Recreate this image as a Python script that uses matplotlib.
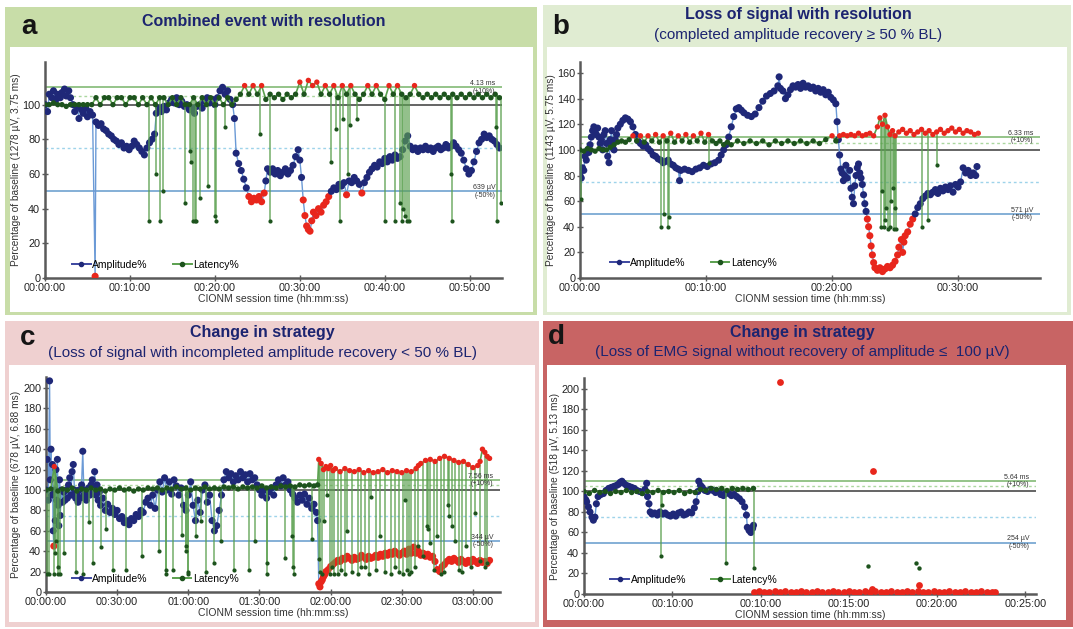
import numpy as np
import matplotlib.pyplot as plt
from matplotlib.patches import Rectangle
from matplotlib.lines import Line2D

W, H = 1073, 629
plt.rcParams['font.family'] = ['Liberation Sans', 'DejaVu Sans']

NAVY = '#1f2878'
RED = '#e8261c'
DKGREEN = '#1d531d'
AMP_LINE = '#6b9ad6'
LAT_LINE = '#5aa04e'
TITLE_COLOR = '#1c2470'

# ---- panel a: combined event with resolution (time in minutes, value in % of baseline)
amp_a = [(0.0, 100), (0.3, 96), (0.5, 106), (0.8, 104), (1.0, 108), (1.3, 103), (1.5, 106), (1.8, 104),
         (2.0, 107), (2.3, 109), (2.5, 105), (2.8, 108), (3.0, 104), (3.3, 100), (3.5, 96), (3.8, 99),
         (4.0, 92), (4.3, 97), (4.5, 95), (4.8, 98), (5.0, 93), (5.3, 96), (5.6, 94), (5.9, 1), (6.0, 90),
         (6.3, 88), (6.6, 89), (6.9, 86), (7.2, 85), (7.5, 83), (7.8, 82), (8.1, 80), (8.4, 79), (8.7, 77),
         (9.0, 78), (9.3, 75), (9.6, 76), (9.9, 74), (10.2, 76), (10.5, 79), (10.8, 77), (11.1, 75),
         (11.4, 73), (11.7, 71), (12.0, 75), (12.3, 78), (12.6, 80), (12.9, 83), (13.1, 95), (13.4, 98),
         (13.7, 96), (14.0, 99), (14.3, 97), (14.6, 101), (14.9, 103), (15.2, 101), (15.5, 104), (15.8, 100),
         (16.1, 102), (16.4, 99), (16.7, 100), (17.0, 97), (17.3, 98), (17.6, 95), (17.9, 99), (18.2, 100),
         (18.5, 98), (18.8, 102), (19.1, 104), (19.4, 101), (19.7, 103), (20.0, 100), (20.3, 104), (20.6, 108),
         (20.9, 110), (21.2, 106), (21.5, 108), (21.8, 103), (22.1, 100), (22.3, 92), (22.5, 72), (22.8, 66),
         (23.1, 62), (23.4, 57), (23.7, 52), (24.0, 47), (24.3, 44), (24.6, 46), (24.9, 45), (25.2, 47),
         (25.5, 44), (25.8, 49), (26.0, 56), (26.2, 63), (26.5, 61), (26.8, 63), (27.1, 60), (27.4, 62),
         (27.7, 59), (28.0, 61), (28.3, 63), (28.6, 60), (28.9, 62), (29.2, 65), (29.5, 70), (29.8, 74),
         (30.0, 68), (30.2, 58), (30.4, 45), (30.6, 36), (30.8, 30), (31.0, 28), (31.2, 27), (31.4, 33),
         (31.6, 38), (31.9, 36), (32.2, 40), (32.5, 38), (32.8, 42), (33.1, 44), (33.4, 47), (33.7, 50),
         (34.0, 52), (34.3, 51), (34.6, 54), (34.9, 53), (35.2, 55), (35.5, 48), (35.8, 56), (36.1, 55),
         (36.4, 58), (36.7, 56), (37.0, 54), (37.3, 49), (37.6, 55), (37.9, 58), (38.2, 61), (38.5, 63),
         (38.8, 65), (39.1, 64), (39.4, 67), (39.7, 66), (40.0, 69), (40.3, 67), (40.6, 70), (40.9, 68),
         (41.2, 71), (41.5, 69), (41.8, 70), (42.1, 74), (42.4, 79), (42.7, 82), (43.0, 76), (43.3, 74),
         (43.6, 75), (43.9, 73), (44.2, 75), (44.5, 74), (44.8, 76), (45.1, 74), (45.4, 75), (45.7, 73),
         (46.0, 75), (46.3, 76), (46.6, 74), (46.9, 75), (47.2, 77), (47.5, 75), (47.8, 76), (48.1, 78),
         (48.4, 76), (48.7, 74), (49.0, 72), (49.3, 68), (49.6, 63), (49.9, 60), (50.2, 62), (50.5, 67),
         (50.8, 73), (51.1, 78), (51.4, 80), (51.7, 83), (52.0, 81), (52.3, 82), (52.6, 80), (52.9, 79),
         (53.2, 77), (53.5, 75)]
lat_a = [(0.0, 100), (0.5, 100), (1.0, 101), (1.5, 100), (2.0, 100), (2.5, 99), (3.0, 100), (3.5, 100),
         (4.0, 100), (4.5, 100), (5.0, 100), (5.5, 100), (6.0, 104), (6.5, 100), (7.0, 104), (7.5, 104),
         (8.0, 100), (8.5, 104), (9.0, 104), (9.5, 100), (10.0, 104), (10.5, 104), (11.0, 100), (11.5, 104),
         (12.0, 100), (12.5, 104), (13.0, 100), (13.5, 104), (14.0, 104), (14.5, 100), (15.0, 104),
         (15.5, 100), (16.0, 104), (16.5, 100), (17.0, 100), (17.5, 104), (18.0, 100), (18.5, 104),
         (19.0, 100), (19.5, 104), (20.0, 100), (20.5, 104), (21.0, 100), (21.5, 104), (22.0, 100),
         (22.5, 103), (23.0, 106), (23.5, 111), (24.0, 106), (24.5, 111), (25.0, 106), (25.5, 111),
         (26.0, 103), (26.5, 106), (27.0, 104), (27.5, 106), (28.0, 103), (28.5, 106), (29.0, 104),
         (29.5, 106), (30.0, 113), (30.5, 106), (31.0, 114), (31.5, 111), (32.0, 113), (32.5, 106),
         (33.0, 111), (33.5, 106), (34.0, 111), (34.5, 104), (35.0, 111), (35.5, 106), (36.0, 111),
         (36.5, 106), (37.0, 103), (37.5, 106), (38.0, 111), (38.5, 106), (39.0, 111), (39.5, 106),
         (40.0, 103), (40.5, 111), (41.0, 106), (41.5, 111), (42.0, 106), (42.5, 104), (43.0, 106),
         (43.5, 111), (44.0, 106), (44.5, 104), (45.0, 106), (45.5, 104), (46.0, 106), (46.5, 104),
         (47.0, 106), (47.5, 104), (48.0, 106), (48.5, 104), (49.0, 106), (49.5, 104), (50.0, 106),
         (50.5, 104), (51.0, 106), (51.5, 104), (52.0, 106), (52.5, 104), (53.0, 106), (53.5, 104)]
drops_a = [(12.2, 33), (13.1, 60), (13.5, 33), (13.9, 50), (16.5, 43), (17.1, 73), (17.2, 67), (17.4, 33),
           (17.6, 33), (17.8, 33), (18.2, 46), (19.2, 53), (20.0, 36), (20.1, 33), (21.2, 87), (25.3, 83),
           (26.5, 33), (33.7, 67), (34.3, 86), (34.7, 33), (35.1, 92), (35.7, 60), (35.9, 88), (36.7, 92),
           (40.0, 33), (41.2, 33), (41.8, 43), (42.0, 33), (42.2, 40), (42.4, 36), (42.6, 33), (42.9, 33),
           (47.8, 60), (47.9, 33), (53.1, 87), (53.2, 33), (53.7, 43)]

# ---- panel b: loss of signal with resolution
amp_b = [(0.0, 80), (0.1, 78), (0.2, 86), (0.3, 84), (0.4, 95), (0.5, 92), (0.6, 100), (0.7, 98), (0.8, 104),
         (0.9, 110), (1.0, 115), (1.1, 118), (1.2, 116), (1.3, 112), (1.4, 117), (1.5, 110), (1.6, 105),
         (1.7, 108), (1.8, 100), (1.9, 112), (2.0, 115), (2.1, 105), (2.2, 95), (2.3, 90), (2.4, 108),
         (2.5, 115), (2.6, 104), (2.7, 100), (2.8, 108), (2.9, 112), (3.0, 117), (3.2, 120), (3.4, 123),
         (3.6, 125), (3.8, 124), (4.0, 122), (4.2, 118), (4.4, 112), (4.6, 107), (4.8, 105), (5.0, 103),
         (5.2, 104), (5.4, 101), (5.6, 99), (5.8, 96), (6.0, 95), (6.2, 93), (6.4, 92), (6.6, 90), (6.8, 91),
         (7.0, 92), (7.2, 89), (7.4, 88), (7.6, 86), (7.8, 85), (7.9, 76), (8.0, 84), (8.3, 85), (8.6, 84),
         (8.9, 83), (9.2, 85), (9.5, 86), (9.8, 88), (10.1, 87), (10.4, 89), (10.7, 90), (11.0, 92),
         (11.2, 96), (11.4, 100), (11.6, 104), (11.8, 110), (12.0, 118), (12.2, 126), (12.4, 132),
         (12.6, 133), (12.8, 131), (13.0, 129), (13.3, 127), (13.6, 126), (13.9, 128), (14.2, 133),
         (14.5, 138), (14.8, 142), (15.1, 144), (15.4, 146), (15.7, 150), (15.8, 157), (15.9, 148),
         (16.1, 146), (16.3, 140), (16.5, 143), (16.7, 147), (16.9, 150), (17.1, 149), (17.3, 151),
         (17.5, 148), (17.7, 152), (17.9, 149), (18.1, 150), (18.3, 148), (18.5, 149), (18.7, 146),
         (18.9, 148), (19.1, 145), (19.3, 147), (19.5, 143), (19.7, 145), (19.9, 141), (20.1, 139),
         (20.3, 136), (20.4, 122), (20.5, 108), (20.6, 96), (20.7, 85), (20.8, 82), (20.9, 76), (21.0, 80),
         (21.1, 88), (21.2, 78), (21.4, 84), (21.5, 70), (21.6, 63), (21.7, 58), (21.8, 72), (21.9, 80),
         (22.0, 86), (22.1, 89), (22.2, 82), (22.3, 78), (22.4, 73), (22.5, 65), (22.6, 58), (22.7, 52),
         (22.8, 46), (22.9, 40), (23.0, 33), (23.1, 25), (23.2, 18), (23.3, 12), (23.4, 8), (23.6, 6),
         (23.8, 8), (24.0, 5), (24.2, 7), (24.4, 9), (24.6, 8), (24.8, 10), (25.0, 13), (25.2, 18),
         (25.3, 24), (25.5, 30), (25.6, 20), (25.7, 28), (25.8, 33), (26.0, 36), (26.2, 42), (26.4, 46),
         (26.6, 50), (26.8, 55), (27.0, 58), (27.2, 62), (27.4, 64), (27.6, 66), (27.8, 65), (28.0, 67),
         (28.2, 69), (28.4, 66), (28.6, 70), (28.8, 68), (29.0, 71), (29.2, 69), (29.4, 72), (29.6, 67),
         (29.8, 73), (30.0, 71), (30.2, 75), (30.4, 86), (30.6, 82), (30.8, 84), (31.0, 80), (31.2, 82),
         (31.4, 80), (31.5, 87)]
lat_b = [(0.0, 100), (0.3, 99), (0.6, 101), (0.9, 100), (1.2, 99), (1.5, 101), (1.8, 100), (2.1, 100),
         (2.4, 102), (2.7, 104), (3.0, 106), (3.3, 107), (3.6, 106), (3.9, 108), (4.2, 111), (4.5, 107),
         (4.8, 111), (5.1, 106), (5.4, 111), (5.7, 107), (6.0, 112), (6.3, 106), (6.6, 111), (6.9, 107),
         (7.2, 113), (7.5, 106), (7.8, 111), (8.1, 107), (8.4, 112), (8.7, 106), (9.0, 111), (9.3, 107),
         (9.6, 113), (9.9, 106), (10.2, 112), (10.5, 107), (10.8, 105), (11.1, 107), (11.4, 104),
         (11.7, 106), (12.0, 104), (12.5, 107), (13.0, 105), (13.5, 107), (14.0, 105), (14.5, 107),
         (15.0, 104), (15.5, 107), (16.0, 105), (16.5, 107), (17.0, 105), (17.5, 107), (18.0, 105),
         (18.5, 107), (19.0, 105), (19.5, 108), (20.0, 111), (20.3, 107), (20.6, 111), (20.9, 112),
         (21.2, 111), (21.5, 112), (21.8, 111), (22.1, 113), (22.4, 111), (22.7, 112), (23.0, 113),
         (23.3, 111), (23.6, 118), (23.8, 125), (24.0, 120), (24.2, 127), (24.4, 118), (24.6, 112),
         (24.8, 115), (25.0, 111), (25.3, 114), (25.6, 116), (25.9, 113), (26.2, 115), (26.5, 112),
         (26.8, 114), (27.1, 116), (27.4, 113), (27.7, 115), (28.0, 112), (28.3, 114), (28.6, 116),
         (28.9, 113), (29.2, 115), (29.5, 117), (29.8, 114), (30.1, 116), (30.4, 113), (30.7, 115),
         (31.0, 114), (31.3, 112), (31.6, 113)]
drops_b = [(0.05, 62), (6.4, 40), (6.7, 50), (7.0, 40), (7.1, 48), (10.2, 90), (23.9, 40), (24.0, 68),
           (24.1, 40), (24.2, 45), (24.3, 55), (24.4, 38), (24.6, 40), (24.7, 60), (24.8, 70), (24.9, 38),
           (25.0, 55), (25.1, 38), (27.1, 40), (27.6, 45), (28.3, 88)]

# ---- panel c: change in strategy, incomplete recovery
amp_c = [(0.0, 100), (0.5, 130), (1.0, 90), (1.5, 207), (1.8, 110), (2.1, 140), (2.4, 95), (2.7, 125),
         (3.0, 60), (3.3, 45), (3.6, 100), (3.9, 70), (4.2, 120), (4.5, 90), (4.8, 130), (5.1, 85),
         (5.4, 65), (5.7, 110), (6.0, 75), (6.5, 100), (7.0, 88), (7.5, 98), (8.0, 90), (8.5, 100),
         (9.0, 92), (9.5, 105), (10.0, 112), (10.5, 95), (11.0, 118), (11.5, 125), (12.0, 100), (12.5, 92),
         (13.0, 96), (13.5, 88), (14.0, 100), (14.5, 92), (15.0, 105), (15.5, 138), (16.0, 95), (16.5, 100),
         (17.0, 90), (17.5, 98), (18.0, 102), (18.5, 95), (19.0, 105), (19.5, 110), (20.0, 100),
         (20.5, 118), (21.0, 95), (21.5, 105), (22.0, 90), (22.5, 98), (23.0, 85), (24.0, 92), (25.0, 80),
         (26.0, 86), (27.0, 78), (28.0, 82), (29.0, 76), (30.0, 80), (31.0, 72), (32.0, 74), (33.0, 68),
         (34.0, 70), (35.0, 66), (36.0, 72), (37.0, 70), (38.0, 76), (39.0, 74), (40.0, 80), (41.0, 78),
         (42.0, 88), (43.0, 92), (44.0, 85), (45.0, 95), (46.0, 82), (47.0, 100), (48.0, 108), (49.0, 98),
         (50.0, 112), (51.0, 100), (52.0, 108), (53.0, 96), (54.0, 110), (55.0, 104), (56.0, 95),
         (57.0, 102), (58.0, 85), (59.0, 80), (60.0, 95), (61.0, 108), (62.0, 85), (63.0, 70), (64.0, 90),
         (65.0, 78), (66.0, 100), (67.0, 105), (68.0, 88), (69.0, 95), (70.0, 70), (71.0, 60), (72.0, 65),
         (73.0, 80), (74.0, 95), (75.0, 110), (76.0, 118), (77.0, 112), (78.0, 116), (79.0, 108),
         (80.0, 114), (81.0, 110), (82.0, 118), (83.0, 112), (84.0, 115), (85.0, 108), (86.0, 116),
         (87.0, 110), (88.0, 112), (89.0, 105), (90.0, 100), (91.0, 95), (92.0, 100), (93.0, 92),
         (94.0, 98), (95.0, 102), (96.0, 95), (97.0, 105), (98.0, 110), (99.0, 104), (100.0, 112),
         (101.0, 105), (102.0, 108), (103.0, 100), (104.0, 96), (105.0, 92), (106.0, 88), (107.0, 95),
         (108.0, 90), (109.0, 96), (110.0, 86), (111.0, 92), (112.0, 82), (113.0, 86), (114.0, 78),
         (114.5, 70), (115.0, 8), (115.5, 5), (116.0, 10), (116.5, 12), (117.0, 15), (117.5, 17),
         (118.0, 20), (119.0, 22), (120.0, 25), (121.0, 27), (122.0, 29), (123.0, 31), (124.0, 30),
         (125.0, 33), (126.0, 32), (127.0, 35), (128.0, 33), (129.0, 31), (130.0, 34), (131.0, 32),
         (132.0, 33), (133.0, 36), (134.0, 34), (135.0, 32), (136.0, 35), (137.0, 33), (138.0, 34),
         (139.0, 36), (140.0, 34), (141.0, 37), (142.0, 35), (143.0, 38), (144.0, 36), (145.0, 39),
         (146.0, 37), (147.0, 40), (148.0, 38), (149.0, 36), (150.0, 38), (151.0, 40), (152.0, 37),
         (153.0, 42), (154.0, 38), (155.0, 44), (156.0, 38), (157.0, 40), (158.0, 36), (159.0, 38),
         (160.0, 35), (161.0, 37), (162.0, 34), (163.0, 35), (164.0, 30), (165.0, 22), (166.0, 20),
         (167.0, 25), (168.0, 27), (169.0, 30), (170.0, 32), (171.0, 30), (172.0, 33), (173.0, 31),
         (174.0, 29), (175.0, 32), (176.0, 30), (177.0, 28), (178.0, 31), (179.0, 29), (180.0, 32),
         (181.0, 30), (182.0, 28), (183.0, 31), (184.0, 29), (185.0, 30), (186.0, 28), (187.0, 31)]
lat_c = [(0, 100), (2, 101), (3.5, 123), (5, 99), (7, 101), (9, 100), (11, 102), (13, 99), (15, 101),
         (17, 100), (19, 102), (21, 100), (23, 101), (25, 99), (27, 101), (29, 100), (31, 102), (33, 100),
         (35, 101), (37, 99), (39, 101), (41, 100), (43, 102), (45, 101), (47, 102), (49, 100), (51, 102),
         (53, 101), (55, 103), (57, 101), (59, 102), (61, 100), (63, 102), (65, 101), (67, 103), (69, 101),
         (71, 102), (73, 101), (75, 103), (77, 102), (79, 103), (81, 101), (83, 103), (85, 102), (87, 103),
         (89, 102), (91, 104), (93, 102), (95, 103), (97, 102), (99, 104), (101, 103), (103, 104),
         (105, 103), (107, 105), (109, 104), (111, 105), (113, 104), (114.5, 105), (115, 130), (116, 126),
         (117, 120), (118, 123), (119, 121), (120, 124), (121, 119), (122, 121), (124, 118), (126, 121),
         (128, 119), (130, 118), (132, 120), (134, 117), (136, 119), (138, 117), (140, 118), (142, 120),
         (144, 117), (146, 119), (148, 118), (150, 117), (152, 119), (154, 118), (156, 121), (157, 124),
         (158, 126), (160, 129), (162, 130), (164, 128), (166, 131), (168, 133), (170, 131), (172, 129),
         (174, 127), (176, 128), (178, 125), (180, 122), (182, 124), (183, 128), (184, 140), (185, 137),
         (186, 133), (187, 131)]
drops_c = [(0.4, 18), (1.4, 18), (3.2, 18), (3.9, 38), (4.1, 50), (4.9, 18), (5.0, 25), (6.0, 18),
           (7.4, 38), (12.7, 20), (15.8, 18), (18.3, 69), (19.9, 28), (23.2, 44), (25.5, 62), (28.3, 22),
           (33.6, 22), (40.6, 35), (47.6, 40), (50.4, 18), (50.5, 22), (53.4, 22), (57.2, 56), (59.0, 45),
           (59.2, 40), (59.7, 20), (59.8, 18), (63.2, 55), (65.3, 70), (67.4, 20), (70.9, 28), (73.6, 50),
           (79.3, 22), (85.5, 22), (88.3, 50), (93.2, 18), (93.3, 28), (100.6, 33), (103.7, 55),
           (104.3, 25), (104.4, 18), (112.1, 52), (115.2, 32), (115.5, 20), (116.3, 18), (117.0, 70),
           (118.4, 95), (119.6, 18), (120.4, 25), (121.5, 18), (123.2, 18), (124.5, 22), (126.0, 18),
           (127.1, 60), (129.0, 20), (131.5, 18), (133.0, 25), (134.3, 25), (136.2, 18), (137.1, 93),
           (139.0, 22), (141.0, 55), (143.0, 20), (145.5, 18), (147.0, 25), (149.0, 20), (150.5, 18),
           (151.5, 90), (152.0, 22), (153.0, 18), (154.0, 20), (155.5, 25), (157.0, 45), (159.0, 35),
           (160.5, 65), (161.0, 62), (162.0, 48), (163.5, 22), (165.0, 55), (166.5, 18), (168.0, 20),
           (169.5, 85), (170.0, 75), (171.0, 65), (172.5, 50), (174.0, 22), (175.5, 20), (177.0, 45),
           (179.0, 25), (181.0, 77), (183.0, 30), (185.0, 25), (186.0, 28)]

# ---- panel d: loss of EMG signal without recovery
amp_d = [(0.0, 95), (0.1, 92), (0.15, 90), (0.25, 85), (0.34, 80), (0.45, 75), (0.53, 72), (0.62, 75),
         (0.7, 88), (0.8, 95), (0.95, 97), (1.1, 98), (1.25, 101), (1.4, 103), (1.55, 104), (1.7, 105),
         (1.85, 106), (1.95, 107), (2.05, 109), (2.15, 110), (2.25, 108), (2.4, 106), (2.55, 105),
         (2.7, 104), (2.85, 103), (3.0, 101), (3.15, 100), (3.3, 99), (3.45, 102), (3.55, 108), (3.6, 95),
         (3.68, 88), (3.75, 80), (3.85, 78), (4.0, 79), (4.15, 77), (4.3, 80), (4.45, 78), (4.6, 79),
         (4.75, 77), (4.9, 76), (5.05, 78), (5.2, 76), (5.35, 79), (5.5, 80), (5.65, 77), (5.8, 78),
         (5.95, 80), (6.1, 79), (6.25, 84), (6.35, 90), (6.45, 100), (6.5, 110), (6.6, 106), (6.7, 104),
         (6.85, 101), (7.0, 100), (7.15, 102), (7.3, 101), (7.45, 99), (7.6, 100), (7.75, 97), (7.9, 96),
         (8.05, 99), (8.2, 98), (8.35, 96), (8.5, 97), (8.65, 95), (8.8, 93), (8.95, 90), (9.1, 85),
         (9.2, 77), (9.25, 65), (9.35, 62), (9.45, 60), (9.55, 64), (9.6, 67)]
lat_d = [(0.0, 100), (0.3, 98), (0.6, 101), (0.9, 99), (1.2, 100), (1.5, 98), (1.8, 100), (2.1, 99),
         (2.4, 101), (2.7, 99), (3.0, 100), (3.3, 98), (3.6, 100), (3.9, 99), (4.2, 101), (4.5, 99),
         (4.8, 100), (5.1, 99), (5.4, 101), (5.7, 98), (6.0, 100), (6.3, 99), (6.6, 102), (6.9, 101),
         (7.2, 103), (7.5, 102), (7.8, 103), (8.1, 101), (8.4, 103), (8.7, 102), (9.0, 103), (9.3, 102),
         (9.6, 103)]
drops_d = [(4.37, 37), (4.4, 87), (8.03, 30), (9.6, 25)]
amp_d_lost = [(9.6, 2), (9.9, 3), (10.2, 2), (10.5, 2), (10.8, 3), (11.1, 207), (11.1, 2), (11.4, 3),
              (11.7, 2), (12.0, 2), (12.3, 3), (12.6, 2), (12.9, 2), (13.2, 3), (13.5, 2), (13.8, 2),
              (14.1, 3), (14.4, 2), (14.7, 2), (15.0, 3), (15.3, 2), (15.6, 2), (15.9, 3), (16.2, 2),
              (16.3, 5), (16.35, 120), (16.5, 3), (16.8, 2), (17.1, 2), (17.4, 3), (17.7, 2), (18.0, 2),
              (18.3, 3), (18.6, 2), (18.9, 3), (18.95, 9), (19.2, 2), (19.5, 2), (19.8, 3), (20.1, 2),
              (20.4, 2), (20.7, 3), (21.0, 2), (21.3, 2), (21.6, 3), (21.9, 2), (22.2, 2), (22.5, 3),
              (22.8, 2), (23.1, 2), (23.3, 2)]
lat_d_lost = [(16.1, 27), (18.8, 30), (18.95, 25)]

XT_A = [0, 10, 20, 30, 40, 50]
XL_A = ['00:00:00', '00:10:00', '00:20:00', '00:30:00', '00:40:00', '00:50:00']
XT_B = [0, 10, 20, 30]
XL_B = ['00:00:00', '00:10:00', '00:20:00', '00:30:00']
XT_C = [0, 30, 60, 90, 120, 150, 180]
XL_C = ['00:00:00', '00:30:00', '01:00:00', '01:30:00', '02:00:00', '02:30:00', '03:00:00']
XT_D = [0, 5, 10, 15, 20, 25]
XL_D = ['00:00:00', '00:10:00', '00:10:00', '00:15:00', '00:20:00', '00:25:00']


def px_rect(fig, x0, y0, x1, y1, color):
    fig.add_artist(Rectangle((x0 / W, 1 - y1 / H), (x1 - x0) / W, (y1 - y0) / H,
                             transform=fig.transFigure, facecolor=color, edgecolor='none', zorder=-10))


def px_axes(fig, x0, y0, x1, y1):
    return fig.add_axes([x0 / W, 1 - y1 / H, (x1 - x0) / W, (y1 - y0) / H])


def draw_panel(ax, amp, lat, drops, xmax, ymax, xt, xl, ylabel, lat_note, amp_note, leg_xy):
    at, av = np.array(amp, dtype=float).T
    lt, lv = np.array(lat, dtype=float).T

    ax.axhline(110, color='#78b46a', lw=1.1, zorder=1)
    ax.axhline(105, color='#abd79f', lw=1.0, ls=(0, (2, 2)), zorder=1)
    ax.axhline(100, color='#3a3a3a', lw=1.1, zorder=1)
    ax.axhline(75, color='#9ed3ea', lw=1.0, ls=(0, (2, 2)), zorder=1)
    ax.axhline(50, color='#6fa2d0', lw=1.2, zorder=1)

    # amplitude: light blue trace, navy samples, red below -50 %
    ax.plot(at, av, color=AMP_LINE, lw=1.0, zorder=2)
    ax.scatter(at, av, s=26, c=np.where(av < 50, RED, NAVY), linewidths=0, zorder=3)

    # latency: green trace with drop-outs, red above +10 %
    ax.plot(lt, lv, color=LAT_LINE, lw=1.2, zorder=4)
    dt, dv = np.array(drops, dtype=float).T
    ax.vlines(dt, dv, np.interp(dt, lt, lv), color=LAT_LINE, lw=1.1, alpha=0.85, zorder=4)
    ax.scatter(dt, dv, s=9, c=DKGREEN, linewidths=0, zorder=5)
    ax.scatter(lt, lv, s=15, c=np.where(lv > 110, RED, DKGREEN), linewidths=0, zorder=5)

    tr = ax.get_yaxis_transform()
    ax.text(0.985, 110, lat_note, transform=tr, ha='right', va='center', fontsize=5,
            color='#333333', linespacing=1.1, zorder=6)
    ax.text(0.985, 50, amp_note, transform=tr, ha='right', va='center', fontsize=5,
            color='#333333', linespacing=1.1, zorder=6)

    ax.set_xlim(0, xmax)
    ax.set_ylim(0, ymax)
    ax.set_xticks(xt)
    ax.set_xticklabels(xl)
    ax.set_yticks(np.arange(0, ymax - 5, 20))
    for s in ['top', 'right']:
        ax.spines[s].set_visible(False)
    for s in ['left', 'bottom']:
        ax.spines[s].set_color('#5a5a5a')
        ax.spines[s].set_linewidth(1.8)
    ax.tick_params(direction='inout', length=4, width=1, color='#5a5a5a', labelsize=7.8,
                   labelcolor='#222222', pad=1.5)
    ax.set_ylabel(ylabel, fontsize=7.3, color='#333333', labelpad=1)
    ax.set_xlabel('CIONM session time (hh:mm:ss)', fontsize=7.5, color='#333333', labelpad=1)
    ax.set_facecolor('white')

    handles = [Line2D([], [], color='#3c46a0', lw=1.4, marker='o', ms=3, mfc=NAVY, mec=NAVY),
               Line2D([], [], color=LAT_LINE, lw=1.4, marker='o', ms=3, mfc=DKGREEN, mec=DKGREEN)]
    ax.legend(handles, ['Amplitude%', 'Latency%'], loc='center left', bbox_to_anchor=leg_xy, ncol=2,
              frameon=False, fontsize=7.5, handlelength=1.8, handletextpad=0.15, columnspacing=2.4,
              borderpad=0, borderaxespad=0)


fig = plt.figure(figsize=(W / 100, H / 100), dpi=100)
fig.patch.set_facecolor('white')

# panel frames (outer colour, inner white)
px_rect(fig, 5, 7, 537, 315, '#c8dda8')
px_rect(fig, 10, 47, 533, 312, 'white')
px_rect(fig, 543, 5, 1071, 315, '#e0ecd2')
px_rect(fig, 547, 47, 1067, 312, 'white')
px_rect(fig, 5, 321, 539, 627, '#efd0d0')
px_rect(fig, 9, 365, 535, 622, 'white')
px_rect(fig, 543, 321, 1073, 627, '#c86464')
px_rect(fig, 547, 365, 1066, 620, 'white')


def ftext(x, y, s, **kw):
    fig.text(x / W, 1 - y / H, s, ha='center', va='center', **kw)


ftext(29, 27, 'a', fontsize=20, fontweight='bold', color='#151515')
ftext(561, 27, 'b', fontsize=20, fontweight='bold', color='#151515')
ftext(28, 338, 'c', fontsize=20, fontweight='bold', color='#151515')
ftext(556, 337, 'd', fontsize=20, fontweight='bold', color='#151515')

ftext(264, 21, 'Combined event with resolution', fontsize=11.5, fontweight='bold', color=TITLE_COLOR)
ftext(798, 15, 'Loss of signal with resolution', fontsize=11.5, fontweight='bold', color=TITLE_COLOR)
ftext(798, 35, '(completed amplitude recovery \u2265 50 % BL)', fontsize=11, color=TITLE_COLOR)
ftext(262, 333, 'Change in strategy', fontsize=11.5, fontweight='bold', color=TITLE_COLOR)
ftext(262, 353, '(Loss of signal with incompleted amplitude recovery < 50 % BL)', fontsize=11,
      color=TITLE_COLOR)
ftext(802, 332, 'Change in strategy', fontsize=11.5, fontweight='bold', color=TITLE_COLOR)
ftext(802, 352, '(Loss of EMG signal without recovery of amplitude \u2264  100 \u00b5V)', fontsize=11,
      color=TITLE_COLOR)

ax_a = px_axes(fig, 45, 62, 502, 278)
draw_panel(ax_a, amp_a, lat_a, drops_a, 53.8, 124.6, XT_A, XL_A,
           'Percentage of baseline (1278 \u00b5V, 3.75 ms)', '4.13 ms\n(+10%)', '639 \u00b5V\n(-50%)',
           (0.059, 0.06))

ax_b = px_axes(fig, 580, 62, 1040, 278)
draw_panel(ax_b, amp_b, lat_b, drops_b, 36.5, 168.6, XT_B, XL_B,
           'Percentage of baseline (1143 \u00b5V, 5.75 ms)', '6.33 ms\n(+10%)', '571 \u00b5V\n(-50%)',
           (0.065, 0.07))

ax_c = px_axes(fig, 46, 377, 500, 592)
draw_panel(ax_c, amp_c, lat_c, drops_c, 191.4, 210.8, XT_C, XL_C,
           'Percentage of baseline (678 \u00b5V, 6.88 ms)', '7.56 ms\n(+10%)', '344 \u00b5V\n(-50%)',
           (0.057, 0.06))

ax_d = px_axes(fig, 584, 378, 1036, 594)
draw_panel(ax_d, amp_d, lat_d, drops_d, 25.6, 210.7, XT_D, XL_D,
           'Percentage of baseline (518 \u00b5V, 5.13 ms)', '5.64 ms\n(+10%)', '254 \u00b5V\n(-50%)',
           (0.058, 0.065))
lt_, lv_ = np.array(amp_d_lost, dtype=float).T
ax_d.scatter(lt_, lv_, s=24, c=RED, linewidths=0, zorder=3)
lt_, lv_ = np.array(lat_d_lost, dtype=float).T
ax_d.scatter(lt_, lv_, s=10, c=DKGREEN, linewidths=0, zorder=5)

fig.savefig('out.png', dpi=100)
